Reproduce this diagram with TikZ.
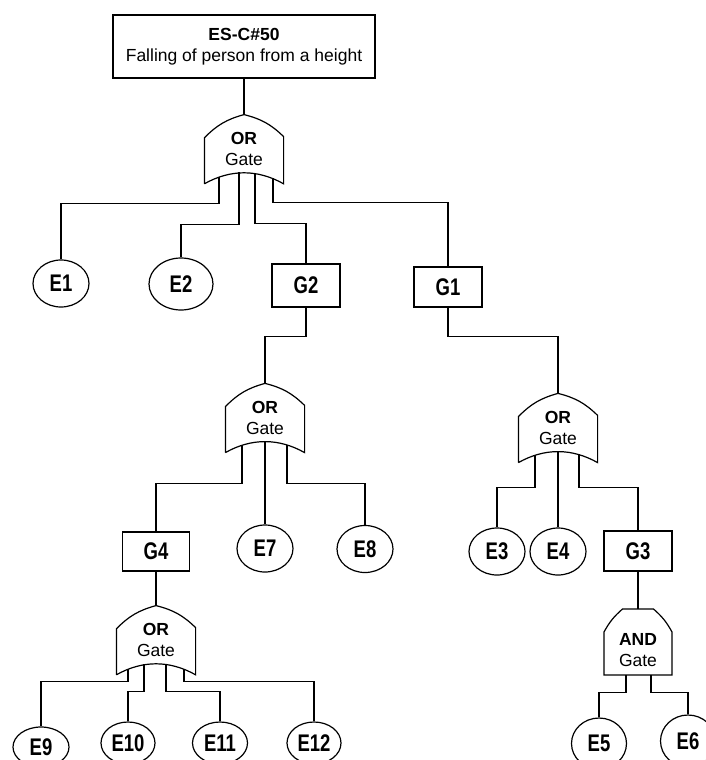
\documentclass[tikz,border=0pt]{standalone}
\usepackage{fontspec}
\setmainfont{Liberation Sans}
\usetikzlibrary{positioning,calc,shapes.geometric}

\newcommand{\dfont}{\fontsize{17.5}{21}\selectfont}
\newcommand{\lfont}{\fontsize{18.5}{21}\selectfont\bfseries}
% labels of events and intermediate gates are drawn taller
\newcommand{\stretchlbl}[1]{\scalebox{1}[1.3]{#1}}
% outline of an OR gate round a node of style orgate
\newcommand{\orshape}[1]{\draw (#1.south west) -- ++(0,46) to[bend left=15] (#1.north) to[bend left=15] ($(#1.north east)+(0,-22)$) -- (#1.south east) .. controls +(-26,14.67) and +(26,14.67) .. (#1.south west);}
% point on the curved bottom of an OR gate
\newcommand{\gout}[2]{($(#1)+(#2,{-23-11*(#2/39)*(#2/39)})$)}

\begin{document}
\begin{tikzpicture}[x=1pt,y=1pt,line width=1.2pt,
	topbox/.style={draw,rectangle,minimum width=262pt,minimum height=63pt,inner sep=0pt,align=center,font=\dfont},
	gbox/.style={draw,rectangle,minimum width=68pt,minimum height=40pt,inner sep=0pt,font=\lfont},
	event/.style={draw,ellipse,minimum width=56pt,minimum height=47pt,inner sep=0pt,font=\lfont},
	orgate/.style={rectangle,minimum width=78pt,minimum height=68pt,inner sep=0pt,align=center,font=\dfont},
	andgate/.style={rectangle,minimum width=68pt,inner sep=0pt,align=center,font=\dfont}
	]
	\useasboundingbox (0,0) rectangle (706,-760);
	
	% Evento principale
	\node[topbox] (top) at (244,-46.5) {\textbf{ES-C\#50}\\Falling of person from a height};
	\node[orgate,below=36pt of top] (or0) {\textbf{OR}\\Gate};
	
	% Primo livello
	\node[event] (e1) at (61,-283.5) {\stretchlbl{E1}};
	\node[event,minimum width=64pt,minimum height=52pt] (e2) at (181,-284) {\stretchlbl{E2}};
	\node[gbox,minimum height=43pt] (g2) at (306,-285.5) {\stretchlbl{G2}};
	\node[gbox] (g1) at (448,-287) {\stretchlbl{G1}};
	
	% Sotto G2
	\node[orgate] (or1) at (265,-418) {\textbf{OR}\\Gate};
	\node[gbox,minimum width=67pt,minimum height=39pt] (g4) at (156,-551.5) {\stretchlbl{G4}};
	\node[event] (e7) at (265,-548.5) {\stretchlbl{E7}};
	\node[event] (e8) at (365,-549) {\stretchlbl{E8}};
	
	% Sotto G4
	\node[orgate,below=34pt of g4] (or3) {\textbf{OR}\\Gate};
	\node[event,minimum height=40pt] (e9) at (41,-747) {\stretchlbl{E9}};
	\node[event,minimum width=54pt,minimum height=42pt] (e10) at (128,-743) {\stretchlbl{E10}};
	\node[event,minimum width=55pt,minimum height=42pt] (e11) at (220,-743) {\stretchlbl{E11}};
	\node[event,minimum width=54pt,minimum height=42pt] (e12) at (314,-743) {\stretchlbl{E12}};
	
	% Sotto G1
	\node[orgate] (or2) at (558,-428) {\textbf{OR}\\Gate};
	\node[event] (e3) at (497,-551.5) {\stretchlbl{E3}};
	\node[event] (e4) at (558,-551.5) {\stretchlbl{E4}};
	\node[gbox] (g3) at (638,-551) {\stretchlbl{G3}};
	\node[andgate] (and1) at (638,-650) {\textbf{AND}\\Gate};
	\node[event,minimum width=55pt,minimum height=51pt] (e5) at (599,-743.5) {\stretchlbl{E5}};
	\node[event,minimum width=55pt,minimum height=52pt] (e6) at (688,-741) {\stretchlbl{E6}};
	
	% Porte
	\orshape{or0}
	\orshape{or1}
	\orshape{or2}
	\orshape{or3}
	\draw ($(and1)+(-34,-25)$) -- ++(0,43) to[bend left=10] ++(18.5,23) -- ++(31,0) to[bend left=10] ++(18.5,-23) -- ++(0,-43) -- cycle;
	
	% Connessioni
	\draw (top.south) -- (or0.north);
	\draw \gout{or0}{-25} |- ([yshift=56pt]e1.north) -- (e1.north);
	\draw \gout{or0}{-5} |- ([yshift=33pt]e2.north) -- (e2.north);
	\draw \gout{or0}{11} |- ([yshift=40pt]g2.north) -- (g2.north);
	\draw \gout{or0}{29} |- ([yshift=64pt]g1.north) -- (g1.north);
	
	\draw (g2.south) |- ([yshift=47pt]or1.north) -- (or1.north);
	\draw \gout{or1}{-23} |- ([yshift=48pt]g4.north) -- (g4.north);
	\draw \gout{or1}{0} -- (e7.north);
	\draw \gout{or1}{22} |- ([yshift=41.5pt]e8.north) -- (e8.north);
	
	\draw (g4.south) -- (or3.north);
	\draw \gout{or3}{-28} |- ([yshift=45pt]e9.north) -- (e9.north);
	\draw \gout{or3}{-12} |- ([yshift=30pt]e10.north) -- (e10.north);
	\draw \gout{or3}{10} |- ([yshift=30pt]e11.north) -- (e11.north);
	\draw \gout{or3}{28} |- ([yshift=40pt]e12.north) -- (e12.north);
	
	\draw (g1.south) |- ([yshift=57pt]or2.north) -- (or2.north);
	\draw \gout{or2}{-23} |- ([yshift=40pt]e3.north) -- (e3.north);
	\draw \gout{or2}{0} -- (e4.north);
	\draw \gout{or2}{21} |- ([yshift=43pt]g3.north) -- (g3.north);
	
	\draw (g3.south) -- ($(and1)+(0,41)$);
	\draw ($(and1)+(-12,-25)$) |- ([yshift=25pt]e5.north) -- (e5.north);
	\draw ($(and1)+(13,-25)$) |- ([yshift=22pt]e6.north) -- (e6.north);
	
\end{tikzpicture}
\end{document}
